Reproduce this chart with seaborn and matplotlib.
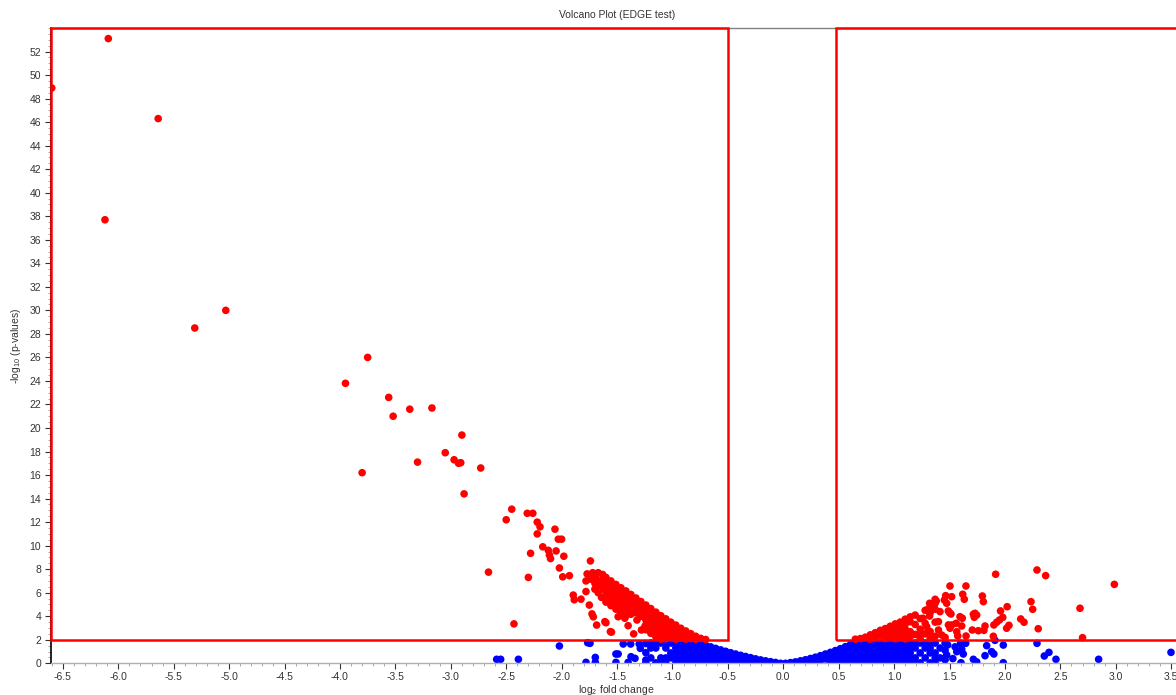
import matplotlib
matplotlib.use("Agg")
import matplotlib.pyplot as plt
import numpy as np
import pandas as pd
import seaborn as sns
from matplotlib.patches import Rectangle
from matplotlib.ticker import MultipleLocator, FormatStrFormatter, FixedLocator

# significance thresholds used for the selection boxes
FC_DOWN = -0.5
FC_UP = 0.475
P_CUT = 2.0

X_LIMITS = (-6.607, 3.6)
Y_LIMITS = (0.0, 54.0)
Y_TICKS = list(range(0, 53, 2))

# isolated down-regulated genes: (log2 fold change, -log10 p)
down_genes = [
    (-6.60, 48.9), (-6.09, 53.1), (-5.64, 46.3), (-6.12, 37.7), (-5.31, 28.5),
    (-5.03, 30.0), (-3.75, 26.0), (-3.95, 23.8), (-3.56, 22.6), (-3.37, 21.6),
    (-3.17, 21.7), (-3.52, 21.0), (-2.90, 19.4), (-3.05, 17.9), (-2.97, 17.3),
    (-2.93, 17.0), (-2.91, 17.05), (-3.30, 17.1), (-3.80, 16.2), (-2.73, 16.6),
    (-2.88, 14.4), (-2.45, 13.1), (-2.50, 12.2), (-2.31, 12.75), (-2.26, 12.75),
    (-2.22, 12.0), (-2.195, 11.6), (-2.22, 11.0), (-2.06, 11.4), (-2.03, 10.55),
    (-2.00, 10.55), (-2.17, 9.9), (-2.12, 9.6), (-2.05, 9.55), (-2.28, 9.35),
    (-2.11, 9.2), (-2.10, 8.9), (-1.98, 9.1), (-2.02, 8.1), (-2.30, 7.3),
    (-1.99, 7.35), (-1.93, 7.45), (-2.66, 7.75), (-1.74, 8.7), (-2.43, 3.35),
    (-1.895, 5.8), (-1.886, 5.4), (-1.825, 5.45), (-1.78, 6.1), (-1.75, 4.95),
    (-1.726, 4.2), (-1.714, 3.95), (-1.684, 3.25), (-1.60, 3.45), (-1.55, 2.65),
    (-1.77, 7.6), (-1.72, 7.7), (-1.67, 7.7), (-1.63, 7.55), (-1.78, 7.0),
    (-1.74, 7.15), (-1.69, 7.25), (-1.65, 7.0), (-1.70, 6.8), (-1.66, 6.6),
    (-1.62, 6.9), (-1.70, 6.3), (-1.67, 6.0), (-1.64, 5.6), (-1.62, 6.3),
    (-1.61, 3.54), (-1.56, 2.69), (-1.47, 4.1), (-1.43, 3.83), (-1.49, 3.96),
    (-1.32, 3.68), (-1.28, 2.83), (-1.25, 3.11), (-1.40, 3.2), (-1.35, 2.5),
]

# dense down-regulated band near the cut-off: log2FC -> -log10 p values
down_band = {
    -1.600: [7.3, 6.88, 6.46, 6.04, 5.62, 5.2],
    -1.555: [7.0, 6.58, 6.16, 5.74, 5.32, 4.9],
    -1.510: [6.7, 6.28, 5.86, 5.44, 5.02, 4.6],
    -1.465: [6.42, 6.0, 5.58, 5.16, 4.74, 4.32],
    -1.420: [6.15, 5.73, 5.31, 4.89, 4.47, 4.05],
    -1.375: [5.85, 5.43, 5.01, 4.59, 4.17],
    -1.330: [5.55, 5.13, 4.71, 4.29],
    -1.285: [5.25, 4.83, 4.41, 3.99],
    -1.240: [4.95, 4.53, 4.11, 3.69, 3.27, 2.85],
    -1.195: [4.65, 4.23, 3.81, 3.39, 2.97, 2.55],
    -1.150: [4.35, 3.93, 3.51, 3.09, 2.67, 2.25],
    -1.105: [4.05, 3.63, 3.21, 2.79, 2.37, 2.05],
    -1.060: [3.78, 3.36, 2.94, 2.52, 2.1],
    -1.015: [3.5, 3.08, 2.66, 2.24],
    -0.970: [3.25, 2.83, 2.41, 2.05],
    -0.925: [2.98, 2.56, 2.14],
    -0.880: [2.75, 2.33, 2.05],
    -0.835: [2.52, 2.1],
    -0.790: [2.3, 2.05],
    -0.745: [2.12],
    -0.700: [2.02],
}

# isolated up-regulated genes
up_genes = [
    (1.916, 7.57), (2.289, 7.93), (2.367, 7.45), (2.987, 6.71), (1.504, 6.57),
    (1.648, 6.57), (1.465, 5.75), (1.519, 5.66), (1.619, 5.87), (1.633, 5.44),
    (1.796, 5.72), (1.805, 5.24), (2.235, 5.24), (2.25, 4.59), (2.02, 4.81),
    (1.96, 4.45), (2.677, 4.68), (2.70, 2.18), (2.30, 2.94), (2.036, 3.23),
    (2.015, 2.98), (2.142, 3.77), (2.172, 3.49), (1.90, 3.26), (1.925, 3.49),
    (1.95, 3.68), (1.98, 3.9), (1.715, 4.17), (1.723, 3.91), (1.82, 3.17),
    (1.81, 2.8), (1.705, 2.83), (1.76, 2.77), (1.895, 2.30), (1.61, 3.17),
    (1.615, 3.83), (1.52, 3.26), (1.504, 2.98), (1.489, 4.45), (1.513, 4.19),
    (1.574, 2.32), (1.649, 2.32), (1.453, 5.38), (1.474, 5.1), (1.50, 4.3),
    (1.594, 3.96), (1.56, 3.4), (1.73, 4.25), (1.745, 4.1), (1.40, 2.83),
    (1.32, 4.02), (1.26, 3.83), (1.414, 4.39), (1.294, 4.53), (1.40, 3.54),
    (1.49, 3.26), (1.565, 2.69), (1.294, 3.11), (1.308, 2.69), (1.233, 2.41),
    (1.37, 5.44), (1.32, 5.1), (1.35, 4.9), (1.38, 5.3), (1.43, 2.4), (1.46, 2.2),
]

# dense up-regulated band above the cut-off
up_band = {
    0.650: [2.05],
    0.695: [2.1],
    0.740: [2.22],
    0.785: [2.42, 2.05],
    0.830: [2.6, 2.18],
    0.875: [2.8, 2.38],
    0.920: [2.95, 2.53, 2.11],
    0.965: [3.15, 2.73, 2.31],
    1.010: [3.35, 2.93, 2.51, 2.09],
    1.055: [3.5, 3.08, 2.66, 2.24],
    1.100: [3.75, 3.33, 2.91, 2.49, 2.07],
    1.145: [3.95, 3.53, 2.69, 2.27],
    1.190: [4.1, 3.3, 2.45],
    1.235: [3.8, 2.9, 2.1],
    1.280: [4.5, 3.4, 2.5],
    1.325: [4.8, 4.3, 2.7, 2.1],
    1.370: [5.1, 4.6, 3.5, 2.3],
}

# isolated non-significant genes
ns_genes = [
    (-2.02, 1.47), (-2.586, 0.34), (-2.55, 0.34), (-2.39, 0.34), (-1.765, 1.75),
    (-1.744, 1.7), (-1.78, 0.08), (-1.696, 0.5), (-1.696, 0.08), (-1.51, 0.79),
    (-1.49, 0.79), (-1.51, 0.08), (-1.444, 1.64), (-1.377, 1.64), (-1.30, 1.64),
    (-1.374, 0.56), (-1.338, 0.42), (-1.29, 1.27), (-1.24, 0.28), (-1.40, 0.08),
    (1.91, 1.95), (1.835, 1.5), (1.985, 1.55), (1.88, 0.99), (1.90, 0.79),
    (1.82, 0.65), (1.985, 0.05), (2.289, 1.70), (2.355, 0.62), (2.397, 0.93),
    (2.46, 0.34), (2.845, 0.34), (3.498, 0.93), (1.715, 0.34), (1.745, 0.12),
    (1.60, 1.70), (1.646, 1.70), (1.61, 1.19), (1.624, 0.79), (1.565, 0.99),
    (1.603, 0.05), (1.483, 1.56), (1.474, 0.71), (1.53, 0.4), (1.55, 1.4),
]

# dense non-significant cloud around zero fold change
ns_band = {
    -1.240: [1.68, 0.9, 0.04],
    -1.195: [1.72, 1.3, 0.46],
    -1.150: [1.72, 1.3, 0.04],
    -1.105: [1.72, 0.46, 0.04],
    -1.060: [1.72, 1.3, 0.46, 0.04],
    -1.015: [1.72, 0.88, 0.46],
    -0.970: [1.72, 1.3, 0.88, 0.46, 0.04],
    -0.925: [1.72, 1.3, 0.88, 0.46, 0.04],
    -0.880: [1.72, 1.3, 0.88, 0.46, 0.04],
    -0.835: [1.72, 1.3, 0.88, 0.46, 0.04],
    -0.790: [1.72, 1.3, 0.88, 0.46, 0.04],
    -0.745: [1.66, 1.24, 0.82, 0.4, 0.0],
    -0.700: [1.53, 1.11, 0.69, 0.27],
    -0.655: [1.40, 0.98, 0.56, 0.14],
    -0.610: [1.27, 0.85, 0.43, 0.01],
    -0.565: [1.14, 0.72, 0.3],
    -0.520: [1.02, 0.6, 0.18],
    -0.475: [0.90, 0.48, 0.06],
    -0.430: [0.79, 0.37, 0.0],
    -0.385: [0.68, 0.26],
    -0.340: [0.58, 0.16],
    -0.295: [0.48, 0.06],
    -0.250: [0.38, 0.0],
    -0.205: [0.29],
    -0.160: [0.21],
    -0.115: [0.14],
    -0.070: [0.07],
    -0.025: [0.0],
    0.020: [0.0],
    0.065: [0.06],
    0.110: [0.12],
    0.155: [0.21],
    0.200: [0.30],
    0.245: [0.41, 0.0],
    0.290: [0.52, 0.1],
    0.335: [0.65, 0.23],
    0.380: [0.79, 0.37],
    0.425: [0.93, 0.51, 0.09],
    0.470: [1.08, 0.66, 0.24],
    0.515: [1.24, 0.82, 0.4, 0.0],
    0.560: [1.41, 0.99, 0.57, 0.15],
    0.605: [1.58, 1.16, 0.74, 0.32],
    0.650: [1.72, 1.3, 0.88, 0.46, 0.04],
    0.695: [1.72, 1.3, 0.88, 0.46, 0.04],
    0.740: [1.72, 1.3, 0.88, 0.46, 0.04],
    0.785: [1.72, 1.3, 0.88, 0.46, 0.04],
    0.830: [1.72, 1.3, 0.88, 0.46, 0.04],
    0.875: [1.72, 1.3, 0.88, 0.46, 0.04],
    0.920: [1.72, 1.3, 0.88, 0.46, 0.04],
    0.965: [1.72, 1.3, 0.88, 0.46, 0.04],
    1.010: [1.72, 1.3, 0.88, 0.46, 0.04],
    1.055: [1.72, 1.3, 0.88, 0.46, 0.04],
    1.100: [1.72, 1.3, 0.88, 0.46, 0.04],
    1.145: [1.72, 1.3, 0.88, 0.46, 0.04],
    1.190: [1.72, 1.3, 0.46, 0.04],
    1.235: [1.72, 0.88, 0.04],
    1.280: [1.72, 1.3, 0.46],
    1.325: [1.72, 1.3, 0.88, 0.04],
    1.370: [1.72, 0.88, 0.46, 0.04],
    1.415: [1.3, 0.46],
    1.460: [1.72, 1.1, 0.3],
}


def collect(points, band, group):
    rows = [(x, y, group) for x, y in points]
    rows += [(x, y, group) for x, ys in band.items() for y in ys]
    return rows


records = (collect(ns_genes, ns_band, "ns")
           + collect(down_genes, down_band, "sig")
           + collect(up_genes, up_band, "sig"))
genes = pd.DataFrame(records, columns=["log2fc", "neglog10p", "group"])

sns.set_style("ticks")
plt.rcParams["font.family"] = ["Liberation Sans", "DejaVu Sans"]
plt.rcParams["mathtext.fontset"] = "custom"
plt.rcParams["mathtext.rm"] = "Liberation Sans"
plt.rcParams["mathtext.default"] = "regular"

fig = plt.figure(figsize=(11.76, 6.95), dpi=100)
ax = fig.add_axes([51 / 1176, (695 - 663.3) / 695, (1182.3 - 51) / 1176, (663.3 - 28) / 695])

sns.scatterplot(
    data=genes, x="log2fc", y="neglog10p", hue="group",
    palette={"ns": "#0000ff", "sig": "#ff0000"},
    s=30, linewidth=0, legend=False, ax=ax, zorder=2,
)

ax.set_xlim(*X_LIMITS)
ax.set_ylim(*Y_LIMITS)

# selection boxes for down- and up-regulated genes
x0, x1 = ax.get_xlim()
y0, y1 = ax.get_ylim()
box_style = dict(fill=False, edgecolor="#ff0000", linewidth=1.8, zorder=3, clip_on=False)
ax.add_patch(Rectangle((x0, P_CUT), FC_DOWN - x0, y1 - P_CUT, **box_style))
ax.add_patch(Rectangle((FC_UP, P_CUT), x1 - FC_UP, y1 - P_CUT, **box_style))

# axes styling
ax.spines["right"].set_visible(False)
ax.spines["top"].set_color("#808080")
ax.spines["top"].set_linewidth(1.0)
ax.spines["bottom"].set_color("#b0b0b0")
ax.spines["bottom"].set_linewidth(1.0)
ax.spines["left"].set_color("#000000")
ax.spines["left"].set_linewidth(1.2)

ax.xaxis.set_major_locator(MultipleLocator(0.5))
ax.xaxis.set_minor_locator(MultipleLocator(0.1))
ax.xaxis.set_major_formatter(FormatStrFormatter("%.1f"))
ax.yaxis.set_major_locator(FixedLocator(Y_TICKS))
ax.yaxis.set_minor_locator(MultipleLocator(0.5))
ax.yaxis.set_major_formatter(FormatStrFormatter("%d"))

ax.tick_params(which="major", direction="out", length=4, width=0.8,
               color="#333333", labelsize=7.5, labelcolor="#333333")
ax.tick_params(which="minor", direction="out", length=2.5, width=0.6, color="#999999")
ax.tick_params(axis="x", which="major", pad=2)
ax.tick_params(axis="y", which="major", pad=3)
ax.grid(False)

ax.set_title("Volcano Plot (EDGE test)", fontsize=7.5, color="#333333", pad=7)
ax.set_xlabel("log$_2$ fold change", fontsize=7.5, color="#333333", labelpad=1)
ax.set_ylabel("-log$_{10}$ (p-values)", fontsize=7.5, color="#333333", labelpad=5)

fig.savefig("out.png", dpi=100)
